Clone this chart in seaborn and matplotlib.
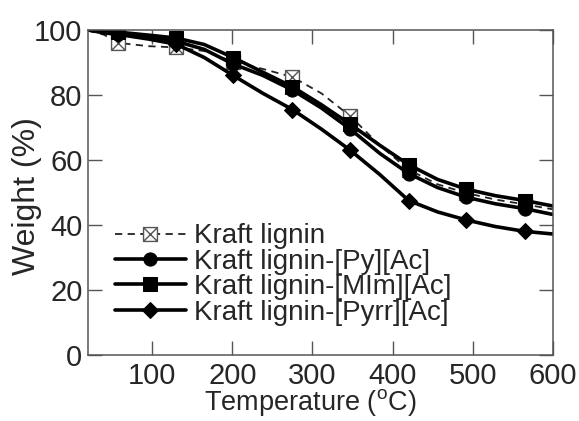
import numpy as np
import matplotlib
matplotlib.use('Agg')
import matplotlib.pyplot as plt
from matplotlib.path import Path
import seaborn as sns

# temperature grid and weight loss curves
temp = [20, 40, 58, 95, 130, 165, 201, 238, 275, 311, 347, 384, 420, 456, 492, 528, 565, 600]
kraft = [99.8, 98.5, 96, 95, 94.6, 93.5, 90.2, 88, 85.5, 80.5, 73.5, 64.5, 57, 52.5, 49.8, 47.8, 46.3, 44.8]
py = [100, 99.2, 98.8, 97.6, 96.5, 94, 89.5, 86, 81.5, 76, 69.5, 62, 55.8, 51.5, 48.5, 46.5, 45, 43.2]
mim = [100, 99.6, 99.3, 98.4, 97.5, 95.5, 91.5, 87, 82.5, 77, 71, 64.5, 58.5, 54, 51, 49, 47.5, 45.8]
pyrr = [100, 99.1, 98.6, 97.2, 95.6, 91.5, 86, 80.5, 75.5, 69.5, 63, 55.5, 47.5, 44, 41.5, 39.5, 38, 37.2]
mark_idx = [2, 4, 6, 8, 10, 12, 14, 16]

labels = ['Kraft lignin', 'Kraft lignin-[Py][Ac]', 'Kraft lignin-[MIm][Ac]', 'Kraft lignin-[Pyrr][Ac]']

sns.set_style('ticks')
plt.rcParams['font.family'] = ['Liberation Sans', 'DejaVu Sans']
plt.rcParams['mathtext.fontset'] = 'custom'
plt.rcParams['mathtext.rm'] = 'Liberation Sans'

# square with a cross inside
box_x = Path([(-1, -1), (1, -1), (1, 1), (-1, 1), (-1, -1), (-1, -1), (1, 1), (-1, 1), (1, -1)],
             [Path.MOVETO, Path.LINETO, Path.LINETO, Path.LINETO, Path.CLOSEPOLY,
              Path.MOVETO, Path.LINETO, Path.MOVETO, Path.LINETO])

fig = plt.figure(figsize=(5.79, 4.21), dpi=100)
ax = fig.add_axes([0.152, 0.157, 0.803, 0.772])

sns.lineplot(x=temp, y=kraft, ax=ax, color='#222222', lw=1.3, linestyle=(0, (4, 3)),
             marker=box_x, markevery=mark_idx, markersize=10, markerfacecolor='white',
             markeredgecolor='#555555', markeredgewidth=1.0, label=labels[0])
sns.lineplot(x=temp, y=py, ax=ax, color='black', lw=2.6, marker='o', markevery=mark_idx,
             markersize=9.5, markeredgecolor='black', label=labels[1])
sns.lineplot(x=temp, y=mim, ax=ax, color='black', lw=2.6, marker='s', markevery=mark_idx,
             markersize=9.5, markeredgecolor='black', label=labels[2])
sns.lineplot(x=temp, y=pyrr, ax=ax, color='black', lw=2.6, marker='D', markevery=mark_idx,
             markersize=8.5, markeredgecolor='black', label=labels[3])

ax.set_xlim(20, 600)
ax.set_ylim(0, 100)
ax.set_xticks([100, 200, 300, 400, 500, 600])
ax.set_yticks([0, 20, 40, 60, 80, 100])
ax.tick_params(direction='in', length=10, width=1, color='#555555', labelsize=21,
               top=True, right=True)
ax.tick_params(axis='x', pad=5)
ax.tick_params(axis='y', pad=4)
for s in ax.spines.values():
    s.set_color('#555555')
    s.set_linewidth(1.1)

ax.set_xlabel(r'Temperature ($^\mathregular{o}$C)', fontsize=19.5)
ax.xaxis.set_label_coords(0.478, -0.1)
ax.set_ylabel('Weight (%)', fontsize=23)
ax.yaxis.set_label_coords(-0.1, 0.49)

leg = ax.legend(loc='upper left', bbox_to_anchor=(0.058, 0.405), frameon=False, fontsize=20,
                handlelength=2.55, handletextpad=0.28, labelspacing=-0.02,
                borderpad=0, borderaxespad=0)

fig.savefig('out.png', dpi=100)
